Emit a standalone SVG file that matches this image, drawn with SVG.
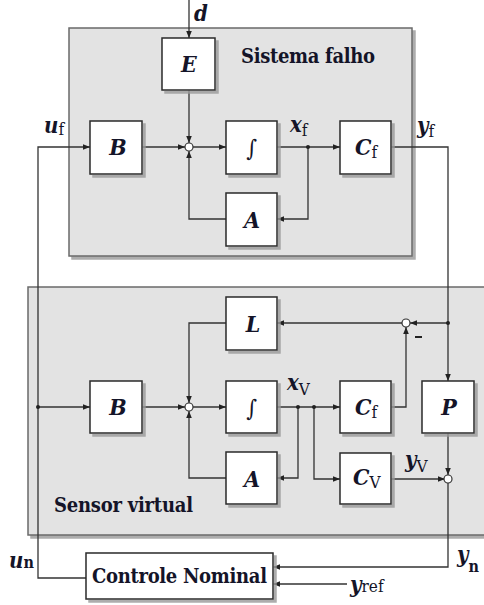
<svg xmlns="http://www.w3.org/2000/svg" width="484" height="605" viewBox="0 0 484 605">
<defs>
<marker id="ar" viewBox="0 0 10 10" refX="10" refY="5" markerWidth="7" markerHeight="7" markerUnits="userSpaceOnUse" orient="auto">
<path d="M0,1 L10,5 L0,9 z" fill="#222"/>
</marker>
<filter id="sh" x="-10%" y="-10%" width="130%" height="130%">
<feOffset dx="3" dy="3" in="SourceAlpha" result="o"/>
<feFlood flood-color="#999" flood-opacity="0.8"/>
<feComposite in2="o" operator="in" result="s"/>
<feMerge><feMergeNode in="s"/><feMergeNode in="SourceGraphic"/></feMerge>
</filter>
</defs>
<style>
.panel{fill:#e3e3e3;stroke:#6a6a6a;stroke-width:1.5}
.blk{fill:#fff;stroke:#2a2a2a;stroke-width:1.5}
.w{fill:none;stroke:#333;stroke-width:1.3}
.sum{fill:#fff;stroke:#333;stroke-width:1.2}
.dot{fill:#222}
text{font-family:'DejaVu Serif Condensed','DejaVu Serif',serif;fill:#141428}
.lbl{font-weight:bold;font-style:italic;font-size:23px}
.ttl{font-weight:bold;font-size:20px}
.var{font-weight:bold;font-style:italic;font-size:22px}
.sub{font-style:normal;font-weight:normal;font-size:17px}
.subb{font-style:normal;font-weight:bold;font-size:16px}
</style>

<g id="sistema-falho">
<rect class="panel" x="69" y="28" width="343" height="228" filter="url(#sh)"/>
<text class="ttl" x="241" y="63" textLength="134">Sistema falho</text>
</g>
<g id="sensor-virtual">
<rect class="panel" x="28" y="287" width="470" height="248" filter="url(#sh)"/>
<text class="ttl" x="54" y="512" textLength="139">Sensor virtual</text>
</g>

<g id="connectors">
<line class="w" x1="189" y1="0" x2="189" y2="38" marker-end="url(#ar)"/>
<line class="w" x1="189" y1="90" x2="189" y2="143" marker-end="url(#ar)"/>
<line class="w" x1="142" y1="147" x2="185" y2="147" marker-end="url(#ar)"/>
<line class="w" x1="193" y1="147" x2="226" y2="147" marker-end="url(#ar)"/>
<line class="w" x1="277" y1="147" x2="340" y2="147" marker-end="url(#ar)"/>
<polyline class="w" points="308,147 308,219 277,219" marker-end="url(#ar)"/>
<polyline class="w" points="226,219 189,219 189,151" marker-end="url(#ar)"/>
<polyline class="w" points="391,147 448,147 448,381" marker-end="url(#ar)"/>
<polyline class="w" points="86,578 38,578 38,147 90,147" marker-end="url(#ar)"/>
<line class="w" x1="448" y1="323" x2="410" y2="323" marker-end="url(#ar)"/>
<line class="w" x1="402" y1="323" x2="277" y2="323" marker-end="url(#ar)"/>
<polyline class="w" points="226,323 189,323 189,403" marker-end="url(#ar)"/>
<line class="w" x1="38" y1="407" x2="90" y2="407" marker-end="url(#ar)"/>
<line class="w" x1="142" y1="407" x2="185" y2="407" marker-end="url(#ar)"/>
<line class="w" x1="193" y1="407" x2="226" y2="407" marker-end="url(#ar)"/>
<line class="w" x1="277" y1="407" x2="340" y2="407" marker-end="url(#ar)"/>
<polyline class="w" points="391,407 406,407 406,327" marker-end="url(#ar)"/>
<polyline class="w" points="298,407 298,478 277,478" marker-end="url(#ar)"/>
<polyline class="w" points="226,478 189,478 189,411" marker-end="url(#ar)"/>
<polyline class="w" points="314,407 314,479 340,479" marker-end="url(#ar)"/>
<line class="w" x1="391" y1="479" x2="445" y2="479" marker-end="url(#ar)"/>
<line class="w" x1="448" y1="432" x2="448" y2="475" marker-end="url(#ar)"/>
<polyline class="w" points="448,483 448,567 273,567" marker-end="url(#ar)"/>
<line class="w" x1="347" y1="584" x2="273" y2="584" marker-end="url(#ar)"/>
<circle class="dot" cx="308" cy="147" r="2"/>
<circle class="dot" cx="448" cy="323" r="2"/>
<circle class="dot" cx="38" cy="407" r="2"/>
<circle class="dot" cx="298" cy="407" r="2"/>
<circle class="dot" cx="314" cy="407" r="2"/>
</g>

<g id="sum1"><circle class="sum" cx="189" cy="147" r="4"/></g>
<g id="sum2"><circle class="sum" cx="406" cy="323" r="4"/><rect x="415" y="336" width="7" height="2" fill="#222"/></g>
<g id="sum3"><circle class="sum" cx="189" cy="407" r="4"/></g>
<g id="sum4"><circle class="sum" cx="448" cy="479" r="4"/></g>

<g id="E"><rect class="blk" x="162" y="38" width="53" height="52" filter="url(#sh)"/><text class="lbl" x="189" y="72" text-anchor="middle">E</text></g>
<g id="B1"><rect class="blk" x="90" y="121" width="52" height="53" filter="url(#sh)"/><text class="lbl" x="118" y="155" text-anchor="middle">B</text></g>
<g id="int1"><rect class="blk" x="226" y="121" width="51" height="53" filter="url(#sh)"/><text class="lbl" x="252" y="156" text-anchor="middle" style="font-weight:normal">∫</text></g>
<g id="Cf1"><rect class="blk" x="340" y="121" width="51" height="53" filter="url(#sh)"/><text class="lbl" x="355" y="155">C<tspan class="sub" dy="3">f</tspan></text></g>
<g id="A1"><rect class="blk" x="226" y="193" width="51" height="53" filter="url(#sh)"/><text class="lbl" x="252" y="228" text-anchor="middle">A</text></g>

<g id="L"><rect class="blk" x="226" y="297" width="51" height="53" filter="url(#sh)"/><text class="lbl" x="253" y="332" text-anchor="middle">L</text></g>
<g id="B2"><rect class="blk" x="90" y="381" width="52" height="52" filter="url(#sh)"/><text class="lbl" x="118" y="415" text-anchor="middle">B</text></g>
<g id="int2"><rect class="blk" x="226" y="381" width="51" height="52" filter="url(#sh)"/><text class="lbl" x="252" y="416" text-anchor="middle" style="font-weight:normal">∫</text></g>
<g id="Cf2"><rect class="blk" x="340" y="381" width="51" height="52" filter="url(#sh)"/><text class="lbl" x="355" y="415">C<tspan class="sub" dy="3">f</tspan></text></g>
<g id="P"><rect class="blk" x="422" y="381" width="52" height="52" filter="url(#sh)"/><text class="lbl" x="449" y="415" text-anchor="middle">P</text></g>
<g id="A2"><rect class="blk" x="226" y="452" width="51" height="52" filter="url(#sh)"/><text class="lbl" x="252" y="487" text-anchor="middle">A</text></g>
<g id="Cv"><rect class="blk" x="340" y="453" width="51" height="51" filter="url(#sh)"/><text class="lbl" x="353" y="485">C<tspan class="sub" dy="3">V</tspan></text></g>
<g id="controle-nominal"><rect class="blk" x="86" y="553" width="187" height="46" filter="url(#sh)"/><text class="ttl" x="92" y="583" textLength="175">Controle Nominal</text></g>

<g id="labels">
<text class="var" x="194" y="21">d</text>
<text class="var" x="44" y="133">u<tspan class="sub" dy="2">f</tspan></text>
<text class="var" x="290" y="132">x<tspan class="sub" dy="4">f</tspan></text>
<text class="var" x="417" y="133">y<tspan class="sub" dy="4">f</tspan></text>
<text class="var" x="287" y="390">x<tspan class="sub" dy="5">V</tspan></text>
<text class="var" x="405" y="467">y<tspan class="sub" dy="5">V</tspan></text>
<text class="var" x="9" y="568">u<tspan class="subb">n</tspan></text>
<text class="var" x="457" y="562" font-size="23">y<tspan class="subb" dy="10">n</tspan></text>
<text class="var" x="350" y="592" font-size="20">y<tspan class="sub">ref</tspan></text>
</g>
</svg>
